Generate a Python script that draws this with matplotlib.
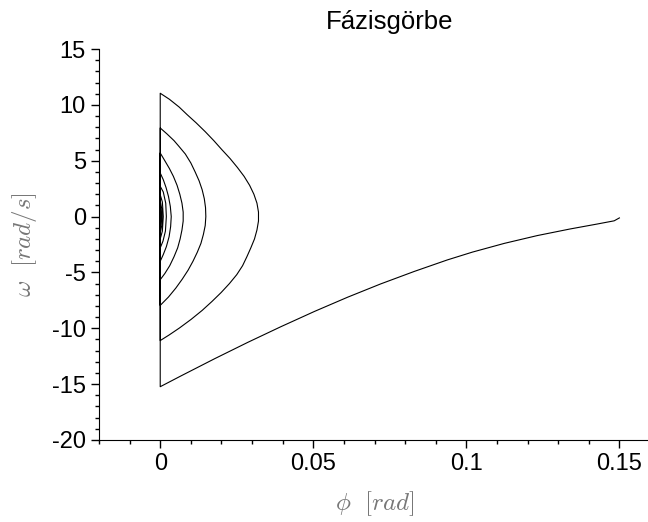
import matplotlib
matplotlib.use("Agg")
import matplotlib.pyplot as plt
from matplotlib.ticker import MultipleLocator, FuncFormatter
import numpy as np

plt.rcParams['font.family'] = ['Liberation Sans', 'DejaVu Sans']
plt.rcParams['mathtext.fontset'] = 'cm'
plt.rcParams['axes.unicode_minus'] = False

# first swing: from phi = 0.15 down to the wall
fall_phi = [0.1500, 0.1483, 0.1427, 0.1339, 0.1232, 0.1124, 0.1020, 0.0938, 0.0830,
            0.0720, 0.0612, 0.0504, 0.0394, 0.0286, 0.0178, 0.0068, 0.0]
fall_omega = [-0.12, -0.38, -0.67, -1.11, -1.70, -2.40, -3.18, -3.88, -4.91,
              -6.03, -7.22, -8.49, -9.86, -11.26, -12.72, -14.26, -15.23]

# bounces after hitting the wall
arc1_omega = [11.04, 10.5, 9.8, 9.12, 8.4, 7.6, 6.8, 6.0, 5.2, 4.4, 3.6, 2.8, 2.0, 1.2, 0.4,
              -0.4, -1.2, -2.0, -2.8, -3.6, -4.4, -5.2, -6.0, -6.8, -7.6, -8.4, -9.2,
              -9.97, -10.6, -11.1]
arc1_phi = [0, 0.0030, 0.0062, 0.0088, 0.0117, 0.0147, 0.0175, 0.0201, 0.0228, 0.0252,
            0.0274, 0.0292, 0.0306, 0.0316, 0.0321,
            0.0321, 0.0316, 0.0308, 0.0296, 0.0283, 0.0269, 0.0250, 0.0226, 0.0199,
            0.0169, 0.0137, 0.0101, 0.0063, 0.0029, 0]

arc2_omega = [7.93, 7.4, 6.8, 6.29, 5.6, 4.8, 4.0, 3.2, 2.4, 1.6, 0.8, 0.0,
              -0.8, -1.6, -2.4, -3.2, -4.0, -4.8, -5.6, -6.4, -7.2, -7.95]
arc2_phi = [0, 0.0022, 0.0045, 0.0061, 0.0082, 0.0100, 0.0114, 0.0127, 0.0137, 0.0144,
            0.0148, 0.0149, 0.0147, 0.0141, 0.0133, 0.0121, 0.0107, 0.0091, 0.0072,
            0.0051, 0.0027, 0]

arc3_omega = [5.69, 5.0, 4.3, 3.6, 2.8, 2.0, 1.2, 0.4, -0.4, -1.2, -2.0, -2.8, -3.6,
              -4.4, -5.1, -5.65]
arc3_phi = [0, 0.0015, 0.0030, 0.0043, 0.0055, 0.0064, 0.0071, 0.0075, 0.0075, 0.0071,
            0.0065, 0.0057, 0.0045, 0.0031, 0.0015, 0]

arc4_omega = [3.9, 3.3, 2.6, 1.8, 0.9, 0.0, -0.9, -1.8, -2.7, -3.4, -4.0]
arc4_phi = [0, 0.0010, 0.0019, 0.0027, 0.0033, 0.0036, 0.0034, 0.0029, 0.0020, 0.0010, 0]

arc5_omega = [2.71, 2.2, 1.2, 0.0, -1.3, -2.2, -2.8]
arc5_phi = [0, 0.0010, 0.0018, 0.0020, 0.0017, 0.0009, 0]

arc6_omega = [1.95, 1.3, 0.0, -1.3, -2.0]
arc6_phi = [0, 0.0007, 0.0010, 0.0007, 0]

arc7_omega = [1.4, 0.7, 0.0, -0.8, -1.45]
arc7_phi = [0, 0.0005, 0.0006, 0.0005, 0]

arc8_omega = [1.0, 0.0, -1.05, 0.0, 0.7]
arc8_phi = [0, 0.0003, 0, 0.00015, 0]

phi = np.concatenate([fall_phi, arc1_phi, arc2_phi, arc3_phi, arc4_phi,
                      arc5_phi, arc6_phi, arc7_phi, arc8_phi])
omega = np.concatenate([fall_omega, arc1_omega, arc2_omega, arc3_omega, arc4_omega,
                        arc5_omega, arc6_omega, arc7_omega, arc8_omega])

fig = plt.figure(figsize=(6.48, 5.22), dpi=100)
ax = fig.add_axes([99 / 648, 82 / 522, 551 / 648, 391 / 522])

ax.plot(phi, omega, color='black', lw=0.8)

ax.set_xlim(-0.02, 0.16)
ax.set_ylim(-20, 15)
ax.xaxis.set_major_locator(MultipleLocator(0.05))
ax.xaxis.set_minor_locator(MultipleLocator(0.01))
ax.yaxis.set_major_locator(MultipleLocator(5))
ax.yaxis.set_minor_locator(MultipleLocator(1))
ax.xaxis.set_major_formatter(FuncFormatter(lambda v, p: '%g' % round(v, 4)))
ax.yaxis.set_major_formatter(FuncFormatter(lambda v, p: '%g' % v))

for s in ['top', 'right']:
    ax.spines[s].set_visible(False)
ax.tick_params(which='major', direction='out', length=6, width=1, labelsize=17)
ax.tick_params(which='minor', direction='out', length=3, width=1)

ax.set_xlabel(r'$\phi\ \ [rad]$', fontsize=18, color='#777777', labelpad=10)
ax.set_ylabel(r'$\omega\ \ [rad/s]$', fontsize=18, color='#777777', labelpad=9)
fig.text(390 / 648, 1 - 22 / 522, 'Fázisgörbe', ha='center', va='center', fontsize=18.5)

fig.savefig('out.png', dpi=100)
